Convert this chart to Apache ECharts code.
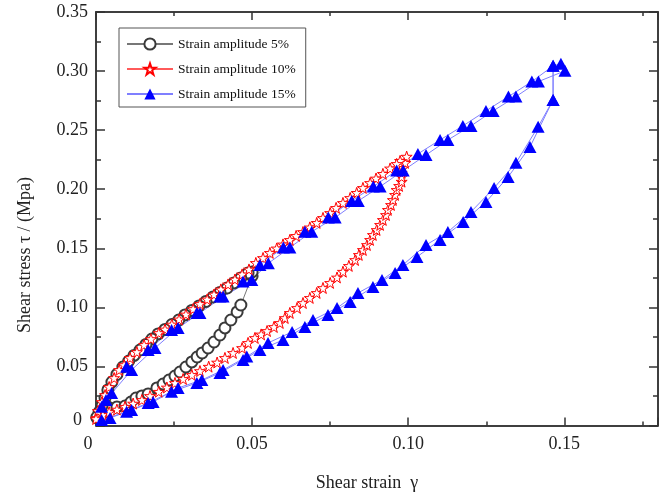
<!DOCTYPE html>
<html>
<head>
<meta charset="utf-8">
<script src="https://cdn.jsdelivr.net/npm/echarts@6/dist/echarts.min.js"></script>
<style>html,body{margin:0;padding:0;background:#fff}#c{width:668px;height:496px}</style>
</head>
<body>
<div id="c"></div>
<script>
// ---- data (shear strain, shear stress MPa) ----
const seriesNames = ['Strain amplitude 5%', 'Strain amplitude 10%', 'Strain amplitude 15%'];
const xTickLabels = ['0', '0.05', '0.10', '0.15'];
const yTickLabels = ['0', '0.05', '0.10', '0.15', '0.20', '0.25', '0.30', '0.35'];

const blackLoad = [[0.0003,0.0064],[0.0022,0.0106],[0.0038,0.0157],[0.0067,0.0157],[0.0093,0.0165],[0.0112,0.0199],[0.0128,0.0233],[0.0147,0.0250],[0.0167,0.0267],[0.0195,0.0318],[0.0215,0.0351],[0.0234,0.0385],[0.0253,0.0419],[0.0269,0.0453],[0.0288,0.0495],[0.0307,0.0538],[0.0324,0.0580],[0.0340,0.0614],[0.0359,0.0656],[0.0378,0.0707],[0.0397,0.0766],[0.0413,0.0826],[0.0432,0.0893],[0.0452,0.0961],[0.0464,0.1020],[0.0500,0.1266],[0.0500,0.1300]];
const blackUnload = [[0.0487,0.1291],[0.0464,0.1249],[0.0442,0.1207],[0.0420,0.1164],[0.0397,0.1126],[0.0375,0.1088],[0.0352,0.1050],[0.0330,0.1012],[0.0307,0.0974],[0.0285,0.0936],[0.0265,0.0893],[0.0243,0.0855],[0.0221,0.0813],[0.0199,0.0775],[0.0179,0.0732],[0.0160,0.0686],[0.0141,0.0639],[0.0122,0.0593],[0.0105,0.0546],[0.0086,0.0495],[0.0067,0.0432],[0.0051,0.0368],[0.0038,0.0301],[0.0029,0.0233],[0.0019,0.0165],[0.0010,0.0114],[0.0003,0.0072]];

const redLoad = [[0.0003,0.0064],[0.0022,0.0089],[0.0042,0.0114],[0.0067,0.0135],[0.0093,0.0159],[0.0119,0.0186],[0.0147,0.0216],[0.0173,0.0250],[0.0201,0.0286],[0.0227,0.0322],[0.0253,0.0360],[0.0279,0.0394],[0.0307,0.0428],[0.0333,0.0461],[0.0361,0.0498],[0.0388,0.0533],[0.0413,0.0572],[0.0439,0.0614],[0.0468,0.0656],[0.0487,0.0699],[0.0509,0.0741],[0.0529,0.0771],[0.0548,0.0800],[0.0570,0.0834],[0.0589,0.0868],[0.0605,0.0910],[0.0621,0.0953],[0.0644,0.0995],[0.0663,0.1037],[0.0685,0.1080],[0.0707,0.1122],[0.0727,0.1164],[0.0750,0.1207],[0.0772,0.1253],[0.0791,0.1302],[0.0810,0.1351],[0.0830,0.1401],[0.0842,0.1444],[0.0855,0.1486],[0.0868,0.1528],[0.0878,0.1571],[0.0887,0.1613],[0.0899,0.1655],[0.0910,0.1698],[0.0919,0.1740],[0.0929,0.1782],[0.0935,0.1825],[0.0945,0.1867],[0.0951,0.1909],[0.0958,0.1952],[0.0963,0.1994],[0.0971,0.2028],[0.0979,0.2064],[0.0979,0.2104],[0.0979,0.2138],[0.0983,0.2180],[0.0990,0.2223],[0.0995,0.2276]];
const redUnload = [[0.0974,0.2240],[0.0963,0.2214],[0.0942,0.2176],[0.0919,0.2130],[0.0897,0.2091],[0.0878,0.2053],[0.0855,0.2011],[0.0835,0.1969],[0.0814,0.1926],[0.0791,0.1884],[0.0769,0.1842],[0.0750,0.1799],[0.0727,0.1757],[0.0707,0.1715],[0.0685,0.1677],[0.0663,0.1638],[0.0641,0.1605],[0.0621,0.1571],[0.0599,0.1533],[0.0579,0.1499],[0.0557,0.1461],[0.0535,0.1418],[0.0512,0.1376],[0.0490,0.1321],[0.0468,0.1279],[0.0445,0.1236],[0.0423,0.1194],[0.0400,0.1152],[0.0378,0.1109],[0.0356,0.1067],[0.0333,0.1029],[0.0311,0.0986],[0.0288,0.0940],[0.0266,0.0898],[0.0243,0.0855],[0.0221,0.0813],[0.0201,0.0783],[0.0176,0.0732],[0.0154,0.0682],[0.0131,0.0622],[0.0109,0.0572],[0.0090,0.0512],[0.0074,0.0470],[0.0058,0.0402],[0.0042,0.0326],[0.0029,0.0258],[0.0019,0.0199],[0.0006,0.0123],[0.0000,0.0055]];

const blueLoadA = [[0.0018,0.0047],[0.0098,0.0117],[0.0167,0.0191],[0.0242,0.0286],[0.0323,0.0360],[0.0397,0.0445],[0.0471,0.0555],[0.0525,0.0639],[0.0599,0.0724],[0.0669,0.0834],[0.0743,0.0936],[0.0814,0.1046],[0.0887,0.1173],[0.0958,0.1291],[0.1028,0.1427],[0.1102,0.1571],[0.1176,0.1723],[0.1249,0.1892],[0.1320,0.2104],[0.1390,0.2358],[0.1464,0.2756]];
const bluePeakA = [[0.1464,0.3044]];
const blueUnloadA = [[0.1396,0.2911],[0.1321,0.2784],[0.1249,0.2663],[0.1175,0.2536],[0.1102,0.2417],[0.1031,0.2299],[0.0963,0.2158],[0.0888,0.2022],[0.0819,0.1901],[0.0744,0.1760],[0.0669,0.1641],[0.0600,0.1506],[0.0525,0.1359],[0.0471,0.1218],[0.0397,0.1091],[0.0323,0.0953],[0.0242,0.0809],[0.0167,0.0639],[0.0098,0.0498],[0.0050,0.0275],[0.0018,0.0159]];
const blueLoadB = [[0.0045,0.0064],[0.0114,0.0131],[0.0183,0.0199],[0.0263,0.0318],[0.0339,0.0385],[0.0407,0.0470],[0.0483,0.0583],[0.0551,0.0699],[0.0628,0.0792],[0.0695,0.0893],[0.0772,0.0995],[0.0839,0.1122],[0.0916,0.1232],[0.0983,0.1359],[0.1057,0.1528],[0.1127,0.1638],[0.1201,0.1808],[0.1275,0.2011],[0.1345,0.2223],[0.1416,0.2528]];
const bluePeakB = [[0.1464,0.2756],[0.1464,0.3044],[0.1489,0.3061],[0.1502,0.3002]];
const blueUnloadB = [[0.1417,0.2911],[0.1345,0.2784],[0.1272,0.2663],[0.1201,0.2536],[0.1127,0.2417],[0.1057,0.2290],[0.0984,0.2158],[0.0910,0.2022],[0.0840,0.1901],[0.0766,0.1760],[0.0691,0.1641],[0.0621,0.1506],[0.0552,0.1373],[0.0499,0.1232],[0.0407,0.1091],[0.0333,0.0953],[0.0263,0.0826],[0.0189,0.0656],[0.0114,0.0470],[0.0032,0.0216]];

// ---- chart ----
const FONT = '"Liberation Serif", "Times New Roman", serif';
const AX = '#333';
const starPath = 'path://M50,2 L61.8,36.2 L97.6,36.2 L68.5,57.4 L79.4,91.6 L50,70.5 L20.6,91.6 L31.5,57.4 L2.4,36.2 L38.2,36.2 Z';

const chart = echarts.init(document.getElementById('c'), null, {renderer: 'canvas'});
const gridPos = {left: 96, right: 10, top: 12, bottom: 70.5, containLabel: false};

function xAx(grid, pos, interval, len, labels) {
  return {
    type: 'value', gridIndex: grid, position: pos, min: 0, max: 0.18, interval: interval,
    axisLine: {show: true, onZero: false, lineStyle: {color: AX, width: 1.5}},
    axisTick: {show: true, inside: true, length: len, lineStyle: {color: AX, width: 1.5}},
    splitLine: {show: false},
    axisLabel: labels ? {
      show: true, margin: 10, color: '#222', fontFamily: FONT, fontSize: 18,
      formatter: (v, i) => (i === 0 ? '{o|0}' : (xTickLabels[i] || '')),
      rich: {o: {fontFamily: FONT, fontSize: 18, color: '#222', padding: [0, 16, 0, 0]}}
    } : {show: false}
  };
}
function yAx(grid, pos, interval, len, labels) {
  return {
    type: 'value', gridIndex: grid, position: pos, min: 0, max: 0.35, interval: interval,
    axisLine: {show: true, onZero: false, lineStyle: {color: AX, width: 1.5}},
    axisTick: {show: true, inside: true, length: len, lineStyle: {color: AX, width: 1.5}},
    splitLine: {show: false},
    axisLabel: labels ? {
      show: true, margin: 8, color: '#222', fontFamily: FONT, fontSize: 18,
      formatter: (v, i) => (i === 0 ? '{o|0}' : (yTickLabels[i] || '')),
      rich: {o: {fontFamily: FONT, fontSize: 18, color: '#222', padding: [0, 6, 11, 0]}}
    } : {show: false}
  };
}

const option = {
  animation: false,
  backgroundColor: '#fff',
  grid: [Object.assign({}, gridPos), Object.assign({}, gridPos)],
  xAxis: [
    xAx(0, 'bottom', 0.05, 8, true),
    xAx(0, 'top', 0.05, 8, false),
    xAx(1, 'bottom', 0.025, 4, false),
    xAx(1, 'top', 0.025, 4, false)
  ],
  yAxis: [
    yAx(0, 'left', 0.05, 9, true),
    yAx(0, 'right', 0.05, 9, false),
    yAx(1, 'left', 0.025, 5, false),
    yAx(1, 'right', 0.025, 5, false)
  ],
  legend: {
    orient: 'vertical', left: 119, top: 28,
    padding: [9, 10, 6, 7], itemGap: 11, itemWidth: 46, itemHeight: 14,
    borderColor: '#555', borderWidth: 1, backgroundColor: '#fff',
    textStyle: {fontFamily: FONT, fontSize: 13.5, color: '#111'},
    data: seriesNames
  },
  graphic: [
    {type: 'text', x: 367, y: 483, z: 10,
     style: {text: 'Shear strain  \u03b3', fill: '#222', fontFamily: FONT, fontSize: 18, align: 'center', verticalAlign: 'middle'}},
    {type: 'text', x: 25, y: 255, rotation: Math.PI / 2, z: 10,
     style: {text: 'Shear stress \u03c4 / (Mpa)', fill: '#222', fontFamily: FONT, fontSize: 18, align: 'center', verticalAlign: 'middle'}}
  ],
  series: [
    {
      name: seriesNames[0], type: 'line', xAxisIndex: 0, yAxisIndex: 0,
      data: blackLoad.concat(blackUnload),
      symbol: 'emptyCircle', symbolSize: 11, showAllSymbol: true,
      itemStyle: {color: '#3a3a3a', borderWidth: 1},
      lineStyle: {color: '#777', width: 1}
    },
    {
      name: seriesNames[1], type: 'line', xAxisIndex: 0, yAxisIndex: 0,
      data: redLoad.concat(redUnload),
      symbol: starPath, symbolSize: 11, showAllSymbol: true,
      itemStyle: {color: '#fff', borderColor: '#ff0000', borderWidth: 1},
      lineStyle: {color: '#ff5a5a', width: 1}
    },
    {
      name: seriesNames[2], type: 'line', xAxisIndex: 0, yAxisIndex: 0,
      data: blueLoadA.concat(bluePeakA, blueUnloadA, blueLoadB, bluePeakB, blueUnloadB),
      symbol: 'triangle', symbolSize: [13, 12], showAllSymbol: true,
      itemStyle: {color: '#0000ff'},
      lineStyle: {color: '#7f7fff', width: 1}
    }
  ]
};
chart.setOption(option);
</script>
</body>
</html>
